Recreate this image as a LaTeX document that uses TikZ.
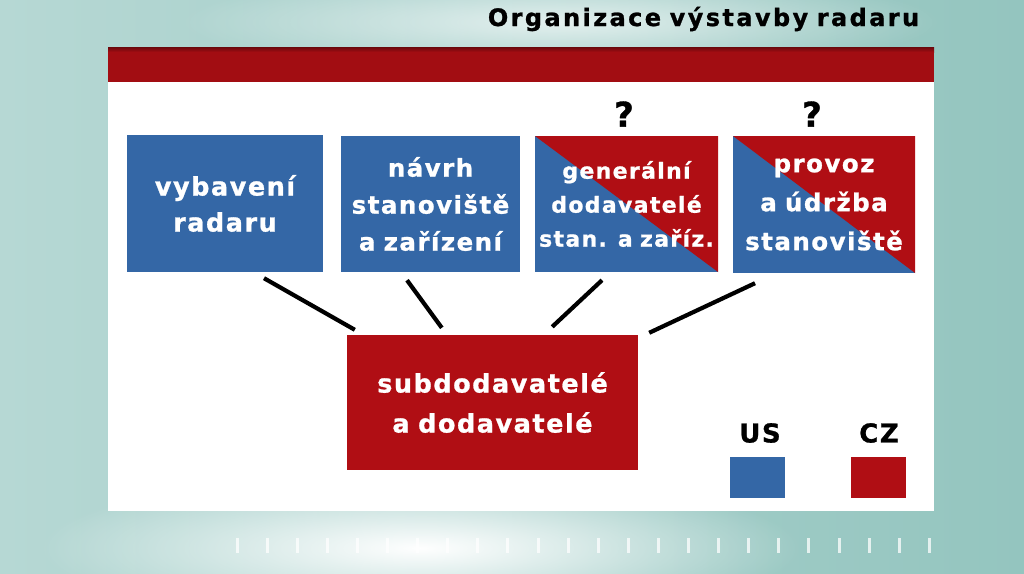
\documentclass[tikz,border=0pt]{standalone}
\usepackage{fontspec}
\usetikzlibrary{fadings}
\newfontfamily\tvfont[LetterSpace=6,WordSpace=0.7,FakeBold=1]{DejaVu Sans}
\newfontfamily\titlefont[LetterSpace=10,WordSpace=0.8,FakeBold=1]{DejaVu Sans}
\definecolor{usblue}{RGB}{52,103,166}
\definecolor{czred}{RGB}{176,14,20}
\definecolor{bgleft}{RGB}{182,216,212}
\definecolor{bgmid}{RGB}{214,237,234}
\definecolor{bgright}{RGB}{148,197,191}
\tikzfading[name=glowfade, inner color=transparent!0, outer color=transparent!100]
\tikzset{
  box/.style={inner sep=0pt, align=center, text=white,
    font=\tvfont\bfseries\fontsize{25pt}{38pt}\selectfont},
  usbox/.style={box, fill=usblue},
  czbox/.style={box, fill=czred},
  splitbox/.style={box, fill=usblue, path picture={
    \fill[czred] (path picture bounding box.north west) -- (path picture bounding box.north east)
      -- (path picture bounding box.south east) -- cycle;}},
  link/.style={line width=4.2pt, black},
  qmark/.style={font=\tvfont\bfseries\fontsize{34pt}{34pt}\selectfont, text=black, inner sep=0pt},
  legend/.style={font=\tvfont\bfseries\fontsize{26pt}{26pt}\selectfont, text=black, inner sep=0pt},
  swatch/.style={minimum width=55pt, minimum height=41pt, inner sep=0pt}
}
\begin{document}
\begin{tikzpicture}[x=1pt,y=-1pt]
\useasboundingbox (0,0) rectangle (1024,573);
% background
\shade[left color=bgleft, middle color=bgmid, right color=bgright] (0,0) rectangle (1024,573);
\fill[white, path fading=glowfade] (420,548) ellipse (380 and 75);
\fill[white, opacity=0.7, path fading=glowfade] (560,22) ellipse (380 and 50);
% ticks
\foreach \i in {0,...,23}
  \fill[white, opacity=0.75] ({235.5+30.1*\i},538) rectangle +(3,15);
% panel
\fill[white] (108,47) rectangle (934,511);
\fill[czred!92!black] (108,47) rectangle (934,82);
\shade[top color=czred!60!black, bottom color=czred!92!black] (108,47) rectangle (934,52);
% title
\node[font=\titlefont\bfseries\fontsize{24pt}{24pt}\selectfont, anchor=base, inner sep=0pt] (title) at (703.5,26) {Organizace výstavby radaru};
% boxes
\node[usbox, text width=196pt, minimum height=137pt, font=\tvfont\bfseries\fontsize{25.5pt}{36pt}\selectfont] (b1) at (225,203.5) {vybavení\\radaru};
\node[usbox, text width=179pt, minimum height=136pt, font=\tvfont\bfseries\fontsize{24.5pt}{37pt}\selectfont] (b2) at (430.5,204) {návrh\\stanoviště\\a zařízení};
\node[splitbox, text width=183pt, minimum height=136pt, font=\tvfont\bfseries\fontsize{22pt}{34pt}\selectfont] (b3) at (626.5,204) {generální\\dodavatelé\\stan. a zaříz.};
\node[splitbox, text width=182pt, minimum height=137pt, font=\tvfont\bfseries\fontsize{24.5pt}{39pt}\selectfont] (b4) at (824,204.5) {provoz\\a údržba\\stanoviště};
\node[czbox, text width=291pt, minimum height=135pt, font=\tvfont\bfseries\fontsize{25.5pt}{40pt}\selectfont] (sub) at (492.5,402.5) {subdodavatelé\\a dodavatelé};
% question marks
\node[qmark] (q3) at (624,114) {?};
\node[qmark] (q4) at (812,114) {?};
% connectors
\draw[link] ([xshift=39pt,yshift=-6pt]b1.south) -- ([xshift=8pt,yshift=5pt]sub.north west);
\draw[link] ([xshift=-23.5pt,yshift=-8pt]b2.south) -- ([xshift=95pt,yshift=7pt]sub.north west);
\draw[link] ([xshift=-24.5pt,yshift=-8pt]b3.south) -- ([xshift=-86pt,yshift=8pt]sub.north east);
\draw[link] ([xshift=-69pt,yshift=-10pt]b4.south) -- ([xshift=11pt,yshift=2pt]sub.north east);
% legend
\node[legend] (us) at (760,433) {US};
\node[legend] (cz) at (879,433) {CZ};
\node[swatch, fill=usblue] (usw) at (757.5,477.5) {};
\node[swatch, fill=czred] (czw) at (878.5,477.5) {};
\end{tikzpicture}
\end{document}
